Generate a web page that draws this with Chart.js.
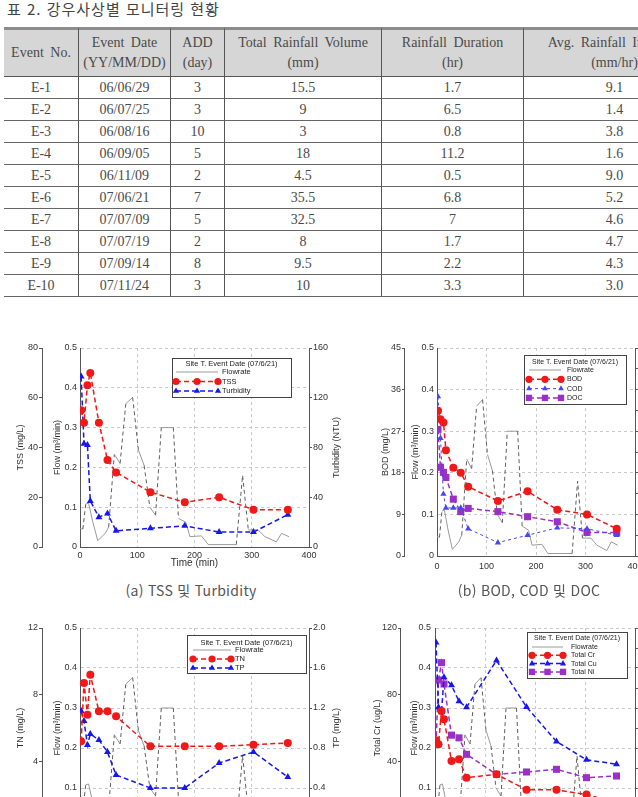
<!DOCTYPE html>
<html lang="ko">
<head>
<meta charset="utf-8">
<title>강우사상별 모니터링 현황</title>
<script src="https://cdn.jsdelivr.net/npm/chart.js@4.4.1/dist/chart.umd.min.js"></script>
<style>
  html, body { margin: 0; padding: 0; background: #fff; }
  body { position: relative; width: 638px; height: 797px; overflow: hidden; }
  #tblTitle { position: absolute; left: 7px; top: -2px; font: 15px 'Noto Sans CJK KR', sans-serif; color: #444; letter-spacing: 1px; white-space: nowrap; }
  #events { position: absolute; left: 4px; top: 27px; border-collapse: separate; border-spacing: 0; table-layout: fixed; width: 701px; font-family: 'Liberation Serif', serif; font-size: 14px; color: #4a4a4a; }
  #events th { background: #d6d6d6; font-weight: normal; height: 46px; padding: 0; border-top: 3px solid #8c8c8c; border-bottom: 1px solid #555; line-height: 20px; word-spacing: 3px; }
  #events td { height: 21px; padding: 0; border-bottom: 1px solid #666; text-align: center; line-height: 21px; }
  #events th + th, #events td + td { border-left: 1px solid #555; }
  .cap { position: absolute; top: 580px; font: 14px 'Noto Sans CJK KR', sans-serif; color: #555; white-space: nowrap; transform: translateX(-50%); letter-spacing: 0.3px; }
  canvas { position: absolute; }
</style>
</head>
<body>
<div id="tblTitle">표 2. 강우사상별 모니터링 현황</div>
<table id="events">
  <colgroup><col style="width:74px"><col style="width:92px"><col style="width:54px"><col style="width:157px"><col style="width:142px"><col style="width:182px"></colgroup>
  <thead>
    <tr>
      <th>Event No.</th>
      <th>Event Date<br>(YY/MM/DD)</th>
      <th>ADD<br>(day)</th>
      <th>Total Rainfall Volume<br>(mm)</th>
      <th>Rainfall Duration<br>(hr)</th>
      <th>Avg. Rainfall Intensity<br>(mm/hr)</th>
    </tr>
  </thead>
  <tbody id="eventRows"></tbody>
</table>

<canvas id="chartA" width="350" height="240" style="left:0;top:335px"></canvas>
<canvas id="chartB" width="350" height="240" style="left:330px;top:335px"></canvas>
<canvas id="chartC" width="350" height="240" style="left:0;top:615px"></canvas>
<canvas id="chartD" width="350" height="240" style="left:330px;top:615px"></canvas>

<div class="cap" style="left:191px">(a) TSS 및 Turbidity</div>
<div class="cap" style="left:529px">(b) BOD, COD 및 DOC</div>

<script>
// === Table data ===
const eventNo = ['E-1', 'E-2', 'E-3', 'E-4', 'E-5', 'E-6', 'E-7', 'E-8', 'E-9', 'E-10'];
const eventDate = ['06/06/29', '06/07/25', '06/08/16', '06/09/05', '06/11/09', '07/06/21', '07/07/09', '07/07/19', '07/09/14', '07/11/24'];
const addDays = ['3', '3', '10', '5', '2', '7', '5', '2', '8', '3'];
const rainVolume = ['15.5', '9', '3', '18', '4.5', '35.5', '32.5', '8', '9.5', '10'];
const rainDuration = ['1.7', '6.5', '0.8', '11.2', '0.5', '6.8', '7', '1.7', '2.2', '3.3'];
const rainIntensity = ['9.1', '1.4', '3.8', '1.6', '9.0', '5.2', '4.6', '4.7', '4.3', '3.0'];

// === Event E-6 (07/6/21) monitoring data ===
const sampleTime = [2, 7, 13, 18, 33, 48, 63, 123, 183, 243, 303, 363];
const flowTime = [0, 5, 10, 15, 22, 31, 44, 50, 60, 70, 80, 92, 102, 112, 122, 132, 142, 163, 172, 185, 192, 212, 224, 273, 284, 294, 311, 323, 343, 352, 365];
const flowRate = [0.047, 0.045, 0.108, 0.11, 0.065, 0.016, 0.034, 0.05, 0.233, 0.21, 0.36, 0.376, 0.244, 0.205, 0.1, 0.08, 0.30, 0.30, 0.072, 0.062, 0.026, 0.028, 0.006, 0.006, 0.18, 0.043, 0.043, 0.026, 0.013, 0.034, 0.026];

const tss = [55, 50, 65, 70, 50, 35, 30, 22, 18, 20, 15, 15];
const turbidity = [137, 83, 82, 37, 24, 27, 13, 15, 17, 12, 12, 26];

const bod = [31.4, 29.6, 28.9, 22.9, 19.1, 18.0, 15.0, 11.9, 14.0, 10.0, 9.0, 5.9];
const cod = [34.5, 25.5, 13.4, 10.4, 10.4, 10.4, 5.9, 2.9, 4.5, 6.1, 5.9, 4.5];
const doc = [27.4, 19.2, 18.1, 17.0, 12.3, 9.6, 10.3, 9.6, 8.5, 7.4, 5.1, 5.1];

const tn = [5.2, 8.7, 6.8, 9.2, 7.0, 7.0, 6.7, 4.9, 4.9, 4.9, 5.0, 5.1];
const tp = [1.17, 1.07, 0.83, 0.94, 0.88, 0.76, 0.53, 0.40, 0.40, 0.65, 0.76, 0.51];

const totalCr = [52.7, 50.3, 70.2, 65.3, 40.2, 41.2, 30.2, 32.2, 22.9, 22.9, 20.1, 15];
const totalCu = [111.3, 72.4, 69.4, 90.5, 85.6, 76.0, 72.4, 100.5, 72.6, 51.9, 40.9, 38.3];
const totalNi = [50.3, 88.8, 99.2, 86.4, 55.7, 54.1, 44.2, 32.2, 33.6, 35.2, 30.2, 31.2];

// === Styles ===
const FONT = 'Liberation Sans';
const RED = '#f01818';
const BLUE = '#1616ee';
const PURPLE = '#9b30c8';
const AXIS = '#555';
const GRID = '#c9c9c9';
const TEXT = '#333';

// === Table ===
const tbody = document.getElementById('eventRows');
eventNo.forEach((no, i) => {
    const tr = document.createElement('tr');
    [no, eventDate[i], addDays[i], rainVolume[i], rainDuration[i], rainIntensity[i]].forEach(v => {
        const td = document.createElement('td');
        td.textContent = v;
        tr.appendChild(td);
    });
    tbody.appendChild(tr);
});

// === Plugins ===
function drawMarker(ctx, style, r, x, y, color) {
    ctx.fillStyle = color;
    ctx.beginPath();
    if (style === 'triangle') {
        ctx.moveTo(x, y - r);
        ctx.lineTo(x + r * 0.866, y + r * 0.5);
        ctx.lineTo(x - r * 0.866, y + r * 0.5);
        ctx.closePath();
    } else if (style === 'rect') {
        const s = r * Math.SQRT1_2;
        ctx.rect(x - s, y - s, 2 * s, 2 * s);
    } else {
        ctx.arc(x, y, r, 0, Math.PI * 2);
    }
    ctx.fill();
}

// boxed legend with line samples, like the original plotting program
const boxLegend = {
    id: 'boxLegend',
    afterDraw(chart, args, o) {
        if (!o.box) return;
        const { ctx, chartArea } = chart;
        const [dr, dt, w, h] = o.box;
        const x = chartArea.right - dr - w, y = chartArea.top + dt;
        ctx.save();
        ctx.fillStyle = '#fff';
        ctx.fillRect(x, y, w, h);
        ctx.strokeStyle = '#444';
        ctx.lineWidth = 1;
        ctx.strokeRect(Math.round(x) + 0.5, Math.round(y) + 0.5, w, h);
        ctx.font = o.size + 'px "' + FONT + '"';
        ctx.textBaseline = 'middle';
        ctx.textAlign = 'center';
        ctx.fillStyle = '#222';
        ctx.fillText(o.title, x + w / 2, y + o.titleY);
        ctx.textAlign = 'left';
        chart.data.datasets.forEach((ds, i) => {
            const ry = y + o.rowY + i * o.rowGap;
            const x0 = x + o.sampleX, x1 = x0 + o.sampleW;
            ctx.save();
            ctx.strokeStyle = ds.borderColor;
            ctx.lineWidth = ds.borderWidth;
            ctx.setLineDash(ds.borderDash || []);
            ctx.beginPath();
            ctx.moveTo(x0, ry);
            ctx.lineTo(x1, ry);
            ctx.stroke();
            ctx.restore();
            if (ds.pointRadius > 0) {
                [x0, (x0 + x1) / 2, x1].forEach(px => drawMarker(ctx, ds.pointStyle, ds.pointRadius * 0.9, px, ry, ds.backgroundColor));
            }
            ctx.fillStyle = '#222';
            ctx.fillText(ds.label, x1 + o.gap, ry);
        });
        ctx.restore();
    }
};

// right-hand axis title, reading bottom to top like the left ones
const sideTitle = {
    id: 'sideTitle',
    afterDraw(chart, args, o) {
        if (!o.text) return;
        const s = chart.scales.yR, { ctx, chartArea } = chart;
        ctx.save();
        ctx.translate(s.left + o.dx, (chartArea.top + chartArea.bottom) / 2);
        ctx.rotate(-Math.PI / 2);
        ctx.font = '9px "' + FONT + '"';
        ctx.fillStyle = TEXT;
        ctx.textAlign = 'center';
        ctx.textBaseline = 'middle';
        ctx.fillText(o.text, 0, 0);
        ctx.restore();
    }
};

Chart.register(boxLegend, sideTitle);
Chart.defaults.font.family = FONT;

// === Datasets ===
const pts = (xs, ys) => xs.map((x, i) => ({ x, y: ys[i] }));
const steep = c => Math.abs(c.p1.y - c.p0.y) > 25 && Math.abs(c.p1.y - c.p0.y) > 2.5 * Math.abs(c.p1.x - c.p0.x);

function flowSeries() {
    return {
        label: 'Flowrate', data: pts(flowTime, flowRate), yAxisID: 'yFlow', order: 2,
        borderColor: '#9a9a9a', backgroundColor: '#9a9a9a', borderWidth: 1, pointRadius: 0, tension: 0,
        segment: {
            borderDash: c => steep(c) ? [4, 3] : undefined,
            borderColor: c => steep(c) ? '#5e5e5e' : undefined
        }
    };
}

function series(label, ys, color, style, extra) {
    return Object.assign({
        label, data: pts(sampleTime, ys), yAxisID: 'yL', order: 1,
        borderColor: color, backgroundColor: color, borderWidth: 1.5, borderDash: [5, 3],
        pointStyle: style, pointRadius: 4, pointBorderWidth: 0, tension: 0
    }, extra || {});
}

// === Chart factory ===
function makeChart(id, cfg) {
    const tickFont = { family: FONT, size: 9 };
    const titleFont = { family: FONT, size: 9 };
    const ctx = document.getElementById(id).getContext('2d');
    return new Chart(ctx, {
        type: 'line',
        data: { datasets: cfg.datasets },
        options: {
            responsive: false,
            animation: false,
            devicePixelRatio: 1,
            layout: { padding: { top: 13, left: 0, right: 0, bottom: 0 } },
            plugins: {
                legend: { display: false },
                tooltip: { enabled: false },
                boxLegend: cfg.legend,
                sideTitle: cfg.sideTitle || {}
            },
            scales: {
                x: {
                    type: 'linear', min: 0, max: 400,
                    ticks: { stepSize: 100, font: tickFont, color: TEXT, padding: cfg.xPad, maxRotation: 0 },
                    grid: { color: GRID, drawTicks: false },
                    border: { color: AXIS, dash: [3, 3] },
                    title: { display: !!cfg.xTitle, text: cfg.xTitle, font: { family: FONT, size: 10 }, color: TEXT, padding: { top: 0, bottom: 6 } },
                    afterFit: s => { s.height = cfg.xH; }
                },
                yL: {
                    type: 'linear', position: 'left', weight: 1,
                    min: cfg.left.min, max: cfg.left.max,
                    ticks: { stepSize: cfg.left.step, font: tickFont, color: TEXT, padding: 1 },
                    grid: { drawOnChartArea: false, tickLength: cfg.left.tick, color: AXIS },
                    border: { color: AXIS },
                    title: { display: true, text: cfg.left.title, font: titleFont, color: TEXT, padding: { top: cfg.left.pad, bottom: 0 } },
                    afterFit: s => { s.width = cfg.left.width; }
                },
                yFlow: {
                    type: 'linear', position: 'left', weight: 0, min: 0, max: 0.5,
                    ticks: { stepSize: 0.1, font: tickFont, color: TEXT, padding: cfg.flow.tickPad },
                    grid: { color: GRID, drawTicks: false },
                    border: { color: AXIS, dash: [3, 3] },
                    title: { display: true, text: 'Flow (m³/min)', font: titleFont, color: TEXT, padding: { top: cfg.flow.pad, bottom: 0 } },
                    afterFit: s => { s.width = cfg.flow.width; }
                },
                yR: {
                    type: 'linear', position: 'right',
                    min: cfg.right.min, max: cfg.right.max,
                    ticks: { stepSize: cfg.right.step, display: cfg.right.labels, font: tickFont, color: TEXT, padding: 1 },
                    grid: { drawOnChartArea: false, tickLength: 3, color: AXIS },
                    border: { color: AXIS },
                    afterFit: s => { s.width = cfg.right.width; }
                }
            }
        }
    });
}

// (a) TSS and Turbidity
makeChart('chartA', {
    datasets: [
        flowSeries(),
        series('TSS', tss, RED, 'circle'),
        series('Turbidity', turbidity, BLUE, 'triangle', { yAxisID: 'yR' })
    ],
    left: { min: 0, max: 80, step: 20, title: 'TSS (mg/L)', width: 42, pad: 15, tick: 3 },
    flow: { width: 38, pad: 10, tickPad: 3 },
    right: { min: 0, max: 160, step: 40, width: 41, labels: true },
    xH: 28, xPad: 3, xTitle: 'Time (min)',
    legend: { box: [18, 10, 119, 39], title: 'Site T. Event Date (07/6/21)', titleY: 6, rowY: 14, rowGap: 9.5, sampleX: 4, sampleW: 42, gap: 4, size: 7.5 },
    sideTitle: { text: 'Turbidity (NTU)', dx: 28 }
});

// (b) BOD, COD and DOC
makeChart('chartB', {
    datasets: [
        flowSeries(),
        series('BOD', bod, RED, 'circle'),
        series('COD', cod, '#4646f5', 'triangle', { borderWidth: 1, borderDash: [3, 3], pointRadius: 3.6 }),
        series('DOC', doc, PURPLE, 'rect', { pointRadius: 5 })
    ],
    left: { min: 0, max: 45, step: 9, title: 'BOD (mg/L)', width: 74, pad: 50, tick: 2 },
    flow: { width: 33, pad: 6, tickPad: 3 },
    right: { min: 0, max: 1, step: 0.1, width: 45, labels: false },
    xH: 19, xPad: 5,
    legend: { box: [9, 7, 102, 49], title: 'Site T. Event Date (07/6/21)', titleY: 7, rowY: 15, rowGap: 9.3, sampleX: 5, sampleW: 32, gap: 6, size: 7 }
});

// (c) TN and TP
makeChart('chartC', {
    datasets: [
        flowSeries(),
        series('TN', tn, RED, 'circle'),
        series('TP', tp, BLUE, 'triangle', { yAxisID: 'yR' })
    ],
    left: { min: 0, max: 12, step: 4, title: 'TN (mg/L)', width: 42, pad: 15, tick: 3 },
    flow: { width: 38, pad: 10, tickPad: 3 },
    right: { min: 0, max: 2, step: 0.4, width: 41, labels: true },
    xH: 27, xPad: 3,
    legend: { box: [3, 7, 119, 38], title: 'Site T. Event Date (07/6/21)', titleY: 8, rowY: 15, rowGap: 9, sampleX: 6, sampleW: 38, gap: 4, size: 7.5 },
    sideTitle: { text: 'TP (mg/L)', dx: 28 }
});

// (d) Total Cr, Cu and Ni
makeChart('chartD', {
    datasets: [
        flowSeries(),
        series('Total Cr', totalCr, RED, 'circle'),
        series('Total Cu', totalCu, BLUE, 'triangle'),
        series('Total Ni', totalNi, PURPLE, 'rect', { pointRadius: 5 })
    ],
    left: { min: 0, max: 120, step: 40, title: 'Total Cr (ug/L)', width: 70, pad: 42, tick: 2 },
    flow: { width: 35, pad: 9, tickPad: 4 },
    right: { min: 0, max: 1, step: 0.1, width: 45, labels: false },
    xH: 27, xPad: 5,
    legend: { box: [8, 4, 100, 46], title: 'Site T. Event Date (07/6/21)', titleY: 6, rowY: 15, rowGap: 8.3, sampleX: 5, sampleW: 31, gap: 8, size: 7 }
});
</script>
</body>
</html>
